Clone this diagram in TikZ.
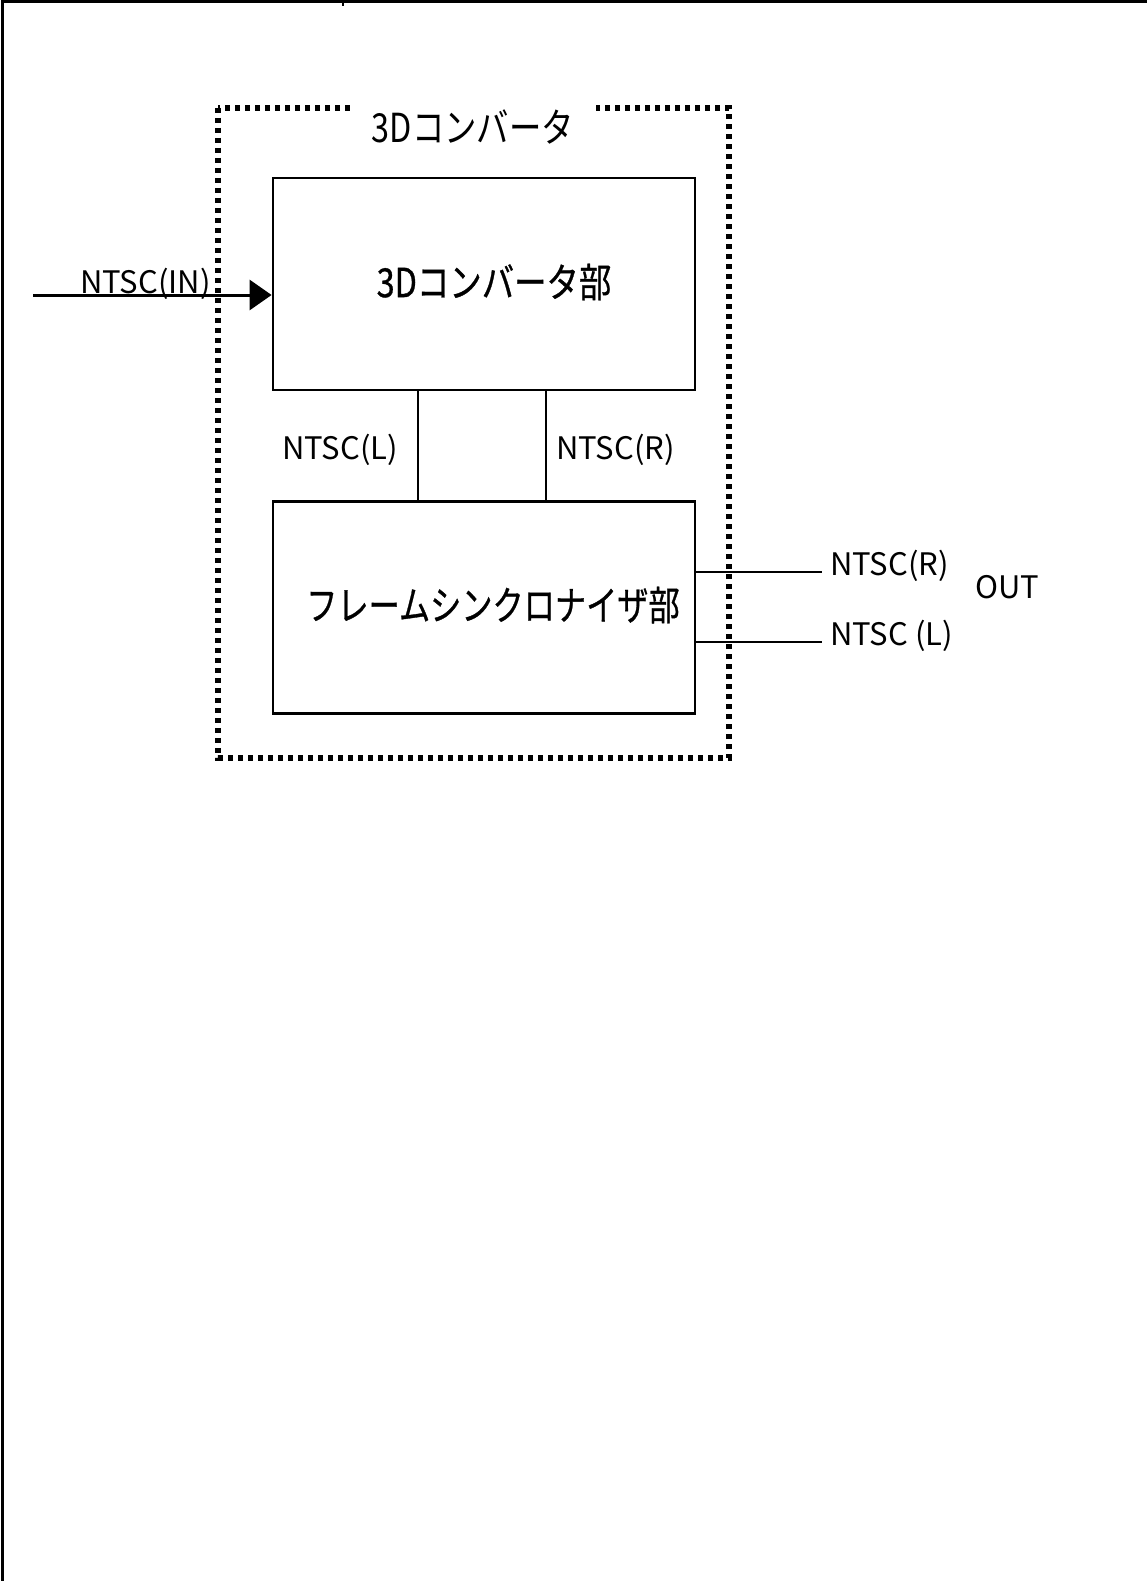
\documentclass[tikz,border=0pt]{standalone}
\usepackage{fontspec}
\setmainfont{Noto Sans CJK JP}
\newfontfamily\bigjp[FakeBold=0.8]{Noto Sans CJK JP}
\usetikzlibrary{arrows.meta}
\begin{document}
\begin{tikzpicture}[x=1pt,y=-1pt,
  blk/.style={draw=black,line width=2.8pt,minimum width=422pt,minimum height=212pt,inner sep=0pt},
  big/.style={inner sep=0pt,font=\bigjp\fontsize{40}{42}\selectfont},
  ttl/.style={inner sep=0pt,font=\fontsize{40}{42}\selectfont},
  lab/.style={inner sep=0pt,anchor=base west,font=\fontsize{31}{33}\selectfont},
  dotbox/.style={line width=5.5pt,dash pattern=on 5pt off 5pt},
  wire/.style={line width=2.2pt},
  frame/.style={line width=3pt}]
\useasboundingbox (0,0) rectangle (1147,1581);
% page frame (left and top edges only)
\draw[frame] (2,1581) -- (2,1.5) -- (1147,1.5);
\draw[line width=2pt] (343,0) -- (343,6);
% dotted outer box
\draw[dotbox] (218,108) rectangle (729,758);
\node[ttl,fill=white,inner xsep=22pt,inner ysep=14pt] (title) at (473,127) {\scalebox{0.81}[1]{3Dコンバータ}};
% blocks
\node[blk] (conv) at (484,284) {};
\node[big] (convt) at (494,282) {\scalebox{0.81}[1]{3Dコンバータ部}};
\node[blk] (fs) at (484,607.5) {};
\node[big] (fst) at (493,605) {\scalebox{0.78}[1]{フレームシンクロナイザ部}};
% internal links
\coordinate (l1) at (418,390);
\coordinate (l2) at (418,501);
\coordinate (r1) at (546,390);
\coordinate (r2) at (546,501);
\draw[wire] (l1) -- (l2);
\draw[wire] (r1) -- (r2);
\node[lab] (ntscl) at (282,459) {NTSC(L)};
\node[lab] (ntscr) at (556,459) {NTSC(R)};
% input
\coordinate (in) at (33,295);
\draw[line width=3pt,-{Triangle[length=22pt,width=30pt]}] (in) -- (conv.west |- in);
\node[lab] (ntscin) at (80,293) {NTSC(IN)};
% outputs
\coordinate (o1) at (822,572);
\coordinate (o2) at (822,642);
\draw[wire] (fs.east |- o1) ++(-2,0) -- (o1);
\draw[wire] (fs.east |- o2) ++(-2,0) -- (o2);
\node[lab] (outr) at (830,575) {NTSC(R)};
\node[lab] (outl) at (830,645) {NTSC (L)};
\node[lab] (out) at (975,598) {OUT};
\end{tikzpicture}
\end{document}
